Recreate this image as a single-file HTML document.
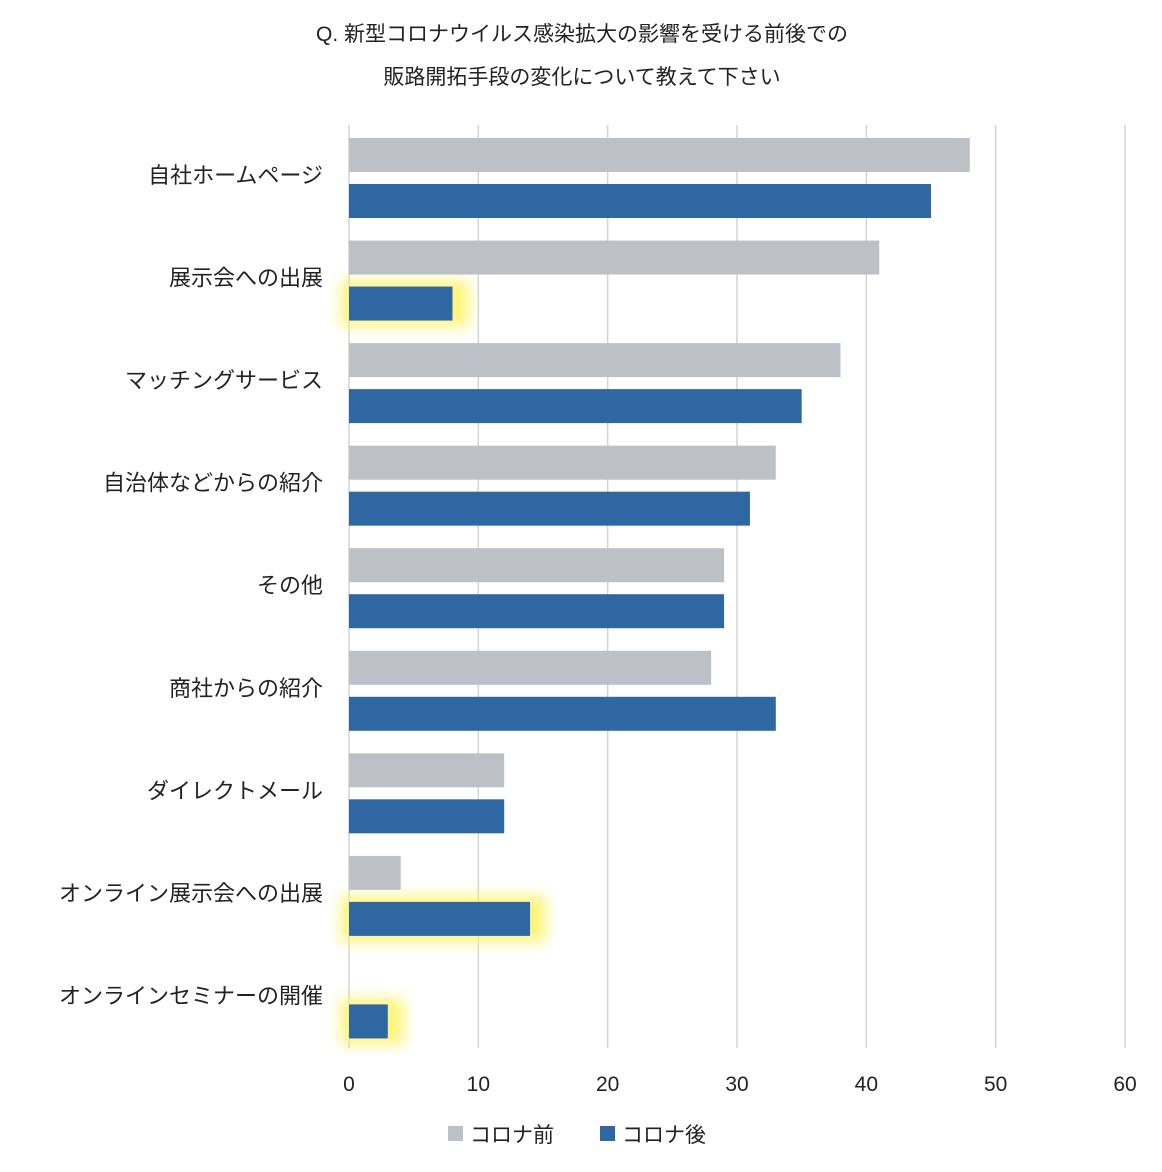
<!DOCTYPE html>
<html><head><meta charset="utf-8">
<style>
body{margin:0;background:#fff;}
svg{display:block;font-family:"Liberation Sans","Noto Sans CJK JP",sans-serif;}
</style></head>
<body>
<svg id="chart" width="1162" height="1172" xmlns="http://www.w3.org/2000/svg">
<defs>
<filter id="glow" x="-50%" y="-50%" width="200%" height="200%"><feGaussianBlur stdDeviation="7"/></filter>
</defs>
<text x="582" y="41" text-anchor="middle" font-size="21" fill="#222">Q. 新型コロナウイルス感染拡大の影響を受ける前後での</text>
<text x="582" y="84" text-anchor="middle" font-size="21" fill="#222">販路開拓手段の変化について教えて下さい</text>
<g id="grid"></g><g id="glows"></g><g id="bars"></g><g id="labels"></g><g id="ticks"></g>
<g>
<rect x="448" y="1126" width="15" height="15" fill="#bdc0c7"/>
<text x="470" y="1142" font-size="21" fill="#222">コロナ前</text>
<rect x="600" y="1126" width="15" height="15" fill="#2f67a3"/>
<text x="622" y="1142" font-size="21" fill="#222">コロナ後</text>
</g>
</svg>
<script>
const categories=["自社ホームページ","展示会への出展","マッチングサービス","自治体などからの紹介","その他","商社からの紹介","ダイレクトメール","オンライン展示会への出展","オンラインセミナーの開催"];
const before=[48,41,38,33,29,28,12,4,0];
const after=[45,8,35,31,29,33,12,14,3];
const highlighted=[false,true,false,false,false,false,false,true,true];
const tickValues=[0,10,20,30,40,50,60];
const NS="http://www.w3.org/2000/svg";
const x0=349,x1=1125,xMax=60,plotTop=125,plotBottom=1048;
const band=(plotBottom-plotTop)/categories.length;
const xs=v=>x0+v/xMax*(x1-x0);
function mk(tag,attrs,parent){const e=document.createElementNS(NS,tag);for(const k in attrs)e.setAttribute(k,attrs[k]);document.getElementById(parent).appendChild(e);return e;}
tickValues.forEach(t=>{
 const l=mk("line",{x1:xs(t),x2:xs(t),y1:plotTop,y2:plotBottom,stroke:"#d4d4d4","stroke-width":1.5},"grid");
 
 
 const tx=mk("text",{x:xs(t),y:1091,"text-anchor":"middle","font-size":21,fill:"#222"},"ticks");
 tx.textContent=t;
 
 
});
categories.forEach((c,i)=>{
 const y=plotTop+i*band+13;
 if(highlighted[i]){
  const g=mk("rect",{x:x0-8,y:y+46-6,width:xs(after[i])-x0+24,height:46,fill:"#fff36a",filter:"url(#glow)",opacity:0.9},"glows");
  
  
 }
 const b=mk("rect",{x:x0,y:y,width:xs(before[i])-x0,height:34,fill:"#bdc0c7"},"bars");
 
 
 const a=mk("rect",{x:x0,y:y+46,width:xs(after[i])-x0,height:34,fill:"#2f67a3"},"bars");
 
 
 const t=mk("text",{x:323,y:y+45,"text-anchor":"end","font-size":22,fill:"#222"},"labels");
 t.textContent=c;
 
 
});
</script>
</body></html>
